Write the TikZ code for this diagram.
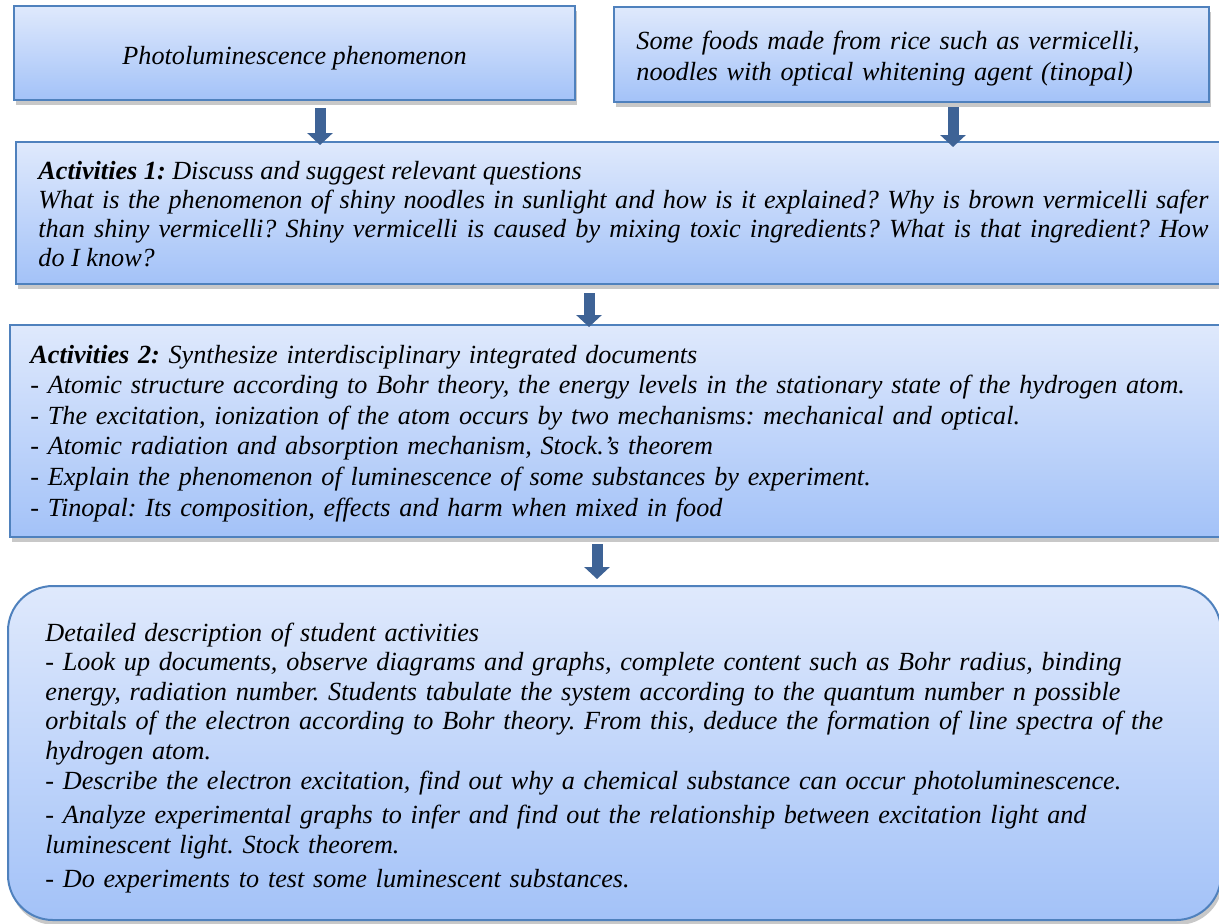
\documentclass[tikz,border=0pt]{standalone}
\usepackage{fontspec}
\setmainfont{Liberation Serif}
\usetikzlibrary{arrows.meta,shadows}
\definecolor{boxtop}{HTML}{DFE9FC}
\definecolor{boxbot}{HTML}{A3C2F8}
\definecolor{boxline}{HTML}{4F81BD}
\definecolor{flowblue}{HTML}{3E6396}
\frenchspacing
\begin{document}
\begin{tikzpicture}[x=0.5pt,y=-0.5pt,
  panel/.style={draw=boxline, line width=1pt, top color=boxtop, bottom color=boxbot,
    inner sep=0pt, drop shadow={shadow xshift=1pt, shadow yshift=-2.5pt, opacity=.3, fill=black!70}},
  txt/.style={inner sep=0pt, font=\fontsize{13.1pt}{14.5pt}\selectfont\itshape},
  flow/.style={draw=flowblue, line width=5.5pt, -{Triangle[length=6pt,width=12.5pt]}},
]
\useasboundingbox (0,0) rectangle (1219,923);
\fill[white] (0,0) rectangle (1219,923);
\clip (0,0) rectangle (1219,923);

% boxes
\node[panel, minimum width=280.5pt, minimum height=47pt] (src) at (294.5,53) {};
\node[panel, minimum width=297.5pt, minimum height=47.5pt] (food) at (911.5,54.5) {};
\node[panel, minimum width=604.5pt, minimum height=71pt] (act1) at (620.5,213) {};
\node[panel, minimum width=607.5pt, minimum height=106pt] (act2) at (617.5,431) {};
\node[panel, rounded corners=22.5pt, minimum width=606.5pt, minimum height=167pt] (detail) at (614.5,753) {};

% texts
\node[txt, anchor=base] (srct) at (294.5,64) {Photoluminescence phenomenon};
\node[txt, anchor=base west, text width=300pt, align=left,
  font=\fontsize{13.1pt}{15.5pt}\selectfont\itshape] (foodt) at (636,49)
  {Some foods made from rice such as vermicelli,\\
   noodles with optical whitening agent (tinopal)};
\node[txt, anchor=base west, text width=585pt, align=justify] (act1t) at (38,179)
  {\textbf{Activities 1:} Discuss and suggest relevant questions\\
   What is the phenomenon of shiny noodles in sunlight and how is it explained? Why is brown vermicelli safer\linebreak
   than shiny vermicelli? Shiny vermicelli is caused by mixing toxic ingredients? What is that ingredient? How\linebreak
   do I know?};
\node[txt, anchor=base west, text width=620pt, align=left,
  font=\fontsize{13.1pt}{15.3pt}\selectfont\itshape] (act2t) at (30,363)
  {\textbf{Activities 2:} Synthesize interdisciplinary integrated documents\\
   - Atomic structure according to Bohr theory, the energy levels in the stationary state of the hydrogen atom.\\
   - The excitation, ionization of the atom occurs by two mechanisms: mechanical and optical.\\
   - Atomic radiation and absorption mechanism, Stock.'s theorem\\
   - Explain the phenomenon of luminescence of some substances by experiment.\\
   - Tinopal: Its composition, effects and harm when mixed in food};
\node[txt, anchor=base west, text width=620pt, align=left,
  font=\fontsize{13.1pt}{14.8pt}\selectfont\itshape] (detailt) at (45,641)
  {Detailed description of student activities\\
   - Look up documents, observe diagrams and graphs, complete content such as Bohr radius, binding\\
   energy, radiation number. Students tabulate the system according to the quantum number n possible\\
   orbitals of the electron according to Bohr theory. From this, deduce the formation of line spectra of the\\
   hydrogen atom.\\
   - Describe the electron excitation, find out why a chemical substance can occur photoluminescence.\\[2.5pt]
   - Analyze experimental graphs to infer and find out the relationship between excitation light and\\
   luminescent light. Stock theorem.\\[2.5pt]
   - Do experiments to test some luminescent substances.};

% connectors
\draw[flow] ([xshift=12.75pt,yshift=-3.5pt]src.south) coordinate (s1) -- ([yshift=-2pt]s1 |- act1.north);
\draw[flow] ([xshift=20.75pt,yshift=-2pt]food.south) coordinate (s2) -- ([yshift=-3pt]s2 |- act1.north);
\draw[flow] ([xshift=-15.75pt,yshift=-4pt]act1.south) coordinate (s3) -- ([yshift=-1.5pt]s3 |- act2.north);
\draw[flow] ([xshift=-10.25pt,yshift=-3pt]act2.south) coordinate (s4) -- ([yshift=3pt]s4 |- detail.north);
\end{tikzpicture}
\end{document}
